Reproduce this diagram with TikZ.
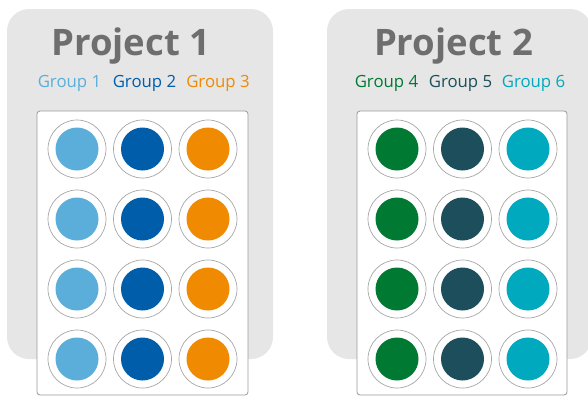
\documentclass[tikz,border=0pt]{standalone}
\usepackage{fontspec}
\setmainfont{Open Sans}
\definecolor{bggray}{HTML}{E6E6E6}
\definecolor{titlegray}{HTML}{6E6E6E}
\definecolor{ringgray}{HTML}{A6A6A6}
\definecolor{plategray}{HTML}{9A9A9A}
\definecolor{gA}{HTML}{5BAEDA}
\definecolor{gB}{HTML}{005DAA}
\definecolor{gC}{HTML}{F08A00}
\definecolor{gD}{HTML}{007A33}
\definecolor{gE}{HTML}{1C4F5B}
\definecolor{gF}{HTML}{00A9BE}
\tikzset{
  panel/.style={fill=bggray, draw=none, rounded corners=22pt},
  plate/.style={fill=white, draw=plategray, line width=0.8pt, rounded corners=3pt},
  ring/.style={circle, draw=ringgray, fill=white, line width=0.7pt, minimum size=58pt, inner sep=0pt},
  dot/.style={circle, draw=none, minimum size=43pt, inner sep=0pt},
  title/.style={anchor=base, text=titlegray, font=\fontsize{36.5}{40}\selectfont\bfseries},
  grp/.style={anchor=base, font=\fontsize{16.8}{20}\selectfont}
}
\begin{document}
\begin{tikzpicture}[x=1pt, y=-1pt]
\useasboundingbox (0,0) rectangle (588,397);
% panels
\path[panel] (7,9) rectangle (273,359);
\path[panel] (327,9) rectangle (592,359);
\node[title] (t1) at (131,55) {Project 1};
\node[title] (t2) at (453.5,55) {Project 2};
\node[grp, text=gA] (g1) at (69.5,87) {Group 1};
\node[grp, text=gB] (g2) at (144.5,87) {Group 2};
\node[grp, text=gC] (g3) at (218,87) {Group 3};
\node[grp, text=gD] (g4) at (386.5,87) {Group 4};
\node[grp, text=gE] (g5) at (460.5,87) {Group 5};
\node[grp, text=gF] (g6) at (533.5,87) {Group 6};
% plates
\draw[plate] (37,111) rectangle (248,395);
\draw[plate] (357,111) rectangle (567,395);
% wells
\foreach \r/\y in {1/149,2/219,3/289,4/359}{
  \foreach \c/\x/\col in {1/77/gA,2/142.5/gB,3/208/gC,4/397/gD,5/462.5/gE,6/528/gF}{
    \node[ring] (w\c\r) at (\x,\y) {};
    \node[dot, fill=\col] (d\c\r) at (w\c\r) {};
  }
}
\end{tikzpicture}
\end{document}
